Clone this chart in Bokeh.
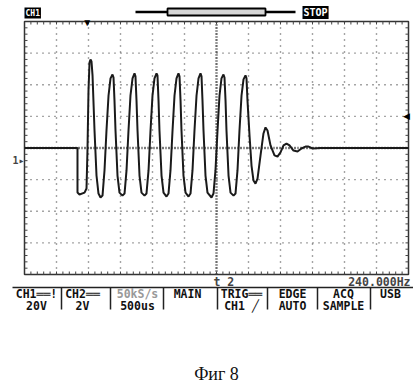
from bokeh.plotting import figure
from bokeh.models import Label, LabelSet, ColumnDataSource, Range1d
from bokeh.core.properties import value
from bokeh.embed import file_html
from bokeh.resources import INLINE

# ---- scope settings (from the screen) ----
volts_per_div = 20.0      # CH1 20V
ms_per_div = 0.5          # 500us
n_xdiv = 12
n_ydiv = 8

# ---- CH1 trace: time in ms from left edge, volts ----
t_ms = [0.000, 0.828, 0.828, 0.859, 0.938, 0.969, 0.984, 1.000, 1.016, 1.031, 1.047, 1.063,
        1.094, 1.125, 1.156, 1.188,
        1.219, 1.250, 1.281, 1.313, 1.344, 1.375, 1.391, 1.406, 1.422, 1.453, 1.484, 1.531,
        1.563, 1.594, 1.625, 1.656, 1.688, 1.719, 1.734, 1.750, 1.766, 1.797, 1.828, 1.875,
        1.906, 1.938, 1.969, 2.000, 2.031, 2.063, 2.078, 2.094, 2.109, 2.141, 2.172, 2.219,
        2.250, 2.281, 2.313, 2.344, 2.375, 2.406, 2.422, 2.438, 2.453, 2.484, 2.516, 2.563,
        2.594, 2.625, 2.656, 2.688, 2.719, 2.750, 2.766, 2.781, 2.797, 2.828, 2.859, 2.922,
        2.953, 2.984, 3.016, 3.047, 3.078, 3.109, 3.125, 3.141, 3.156, 3.188, 3.219, 3.266,
        3.297, 3.328, 3.359, 3.391, 3.422, 3.453, 3.469, 3.484, 3.516, 3.547, 3.578, 3.609,
        3.641, 3.688, 3.734, 3.766, 3.797, 3.844, 3.906, 3.953, 4.000, 4.047, 4.094, 4.141,
        4.203, 4.266, 4.328, 4.391, 4.438, 4.500, 4.625, 6.000]
volts = [0.0, 0.0, -28.2, -29.4, -28.2, -25.6, -1.6, 36.4, 54.1, 56.0, 54.7, 45.9,
         11.1, -17.4, -28.8, -31.3,
         -30.1, -14.2, 11.1, 33.2, 44.0, 46.5, 44.6, 30.1, 11.1, -17.4, -28.2, -30.1,
         -28.8, -14.2, 11.1, 33.2, 44.0, 47.2, 45.3, 30.1, 11.1, -17.4, -28.2, -30.1,
         -28.8, -14.2, 11.1, 33.2, 44.0, 47.2, 45.9, 30.1, 11.1, -17.4, -28.2, -30.7,
         -28.8, -14.2, 11.1, 33.2, 44.0, 47.2, 45.3, 30.1, 11.1, -17.4, -28.2, -30.7,
         -28.8, -14.2, 11.1, 33.2, 44.0, 47.2, 45.3, 30.1, 11.1, -17.4, -28.2, -31.3,
         -28.8, -14.2, 11.1, 33.2, 44.0, 46.5, 44.6, 30.1, 11.1, -17.4, -28.2, -30.1,
         -28.8, -14.2, 11.1, 33.2, 43.4, 45.9, 44.0, 30.1, 7.9, -11.1, -20.6, -22.5,
         -19.3, -4.7, 9.2, 13.0, 11.1, 1.6, -4.7, -5.4, -2.8, 1.6, 2.8, 1.6,
         -1.6, -2.2, -0.3, 0.9, 0.9, -0.3, 0.0, 0.0]

trig_level_v = 20.0
trig_pos_ms = 0.98
ch1_ground_v = -8.0

# ---- status texts ----
menu_top = ["CH1══!", "CH2══", "50kS/s", "MAIN", "TRIG══", "EDGE", "ACQ", "USB"]
menu_bot = ["20V", "2V", "500us", "", "CH1 ╱", "AUTO", "SAMPLE", ""]
freq_text = "240.000Hz"
caption = "Фиг 8"

# ---- layout geometry (pixels of the screen grid inside the picture) ----
W, H = 413, 383
GL, GR, GT, GB = 24, 408, 21, 274
x_end = n_xdiv * ms_per_div
y_half = n_ydiv / 2 * volts_per_div

def X(px):  # picture px -> ms
    return (px - GL) / (GR - GL) * x_end
def Y(py):  # picture px -> V
    return y_half - (py - GT) / (GB - GT) * 2 * y_half

p = figure(width=W, height=H, output_backend="svg", toolbar_location=None,
           x_range=Range1d(X(0), X(W)), y_range=Range1d(Y(H), Y(0)),
           x_axis_location=None, y_axis_location=None, min_border=0)
p.xgrid.visible = False
p.ygrid.visible = False
p.background_fill_color = "white"
p.border_fill_color = "white"
p.outline_line_color = None

# graticule
xt = [i * ms_per_div for i in range(1, n_xdiv)]
yt = [-y_half + i * volts_per_div for i in range(1, n_ydiv)]
p.segment(x0=xt, y0=-y_half, x1=xt, y1=y_half, line_color="#4a4a4a",
          line_width=1.4, line_dash="1 5")
p.segment(x0=0, y0=yt, x1=x_end, y1=yt, line_color="#4a4a4a",
          line_width=1.4, line_dash="1 5")
p.segment(x0=[x_end / 2], y0=-y_half, x1=[x_end / 2], y1=y_half, line_color="#333333",
          line_width=2.5, line_dash="1 2")
p.segment(x0=0, y0=[0], x1=x_end, y1=[0], line_color="#333333",
          line_width=2.5, line_dash="1 2")
p.quad(left=[0], right=[x_end], bottom=[-y_half], top=[y_half], fill_color=None,
       line_color="#333333", line_width=1.5)
# border minor ticks (5 per division)
xm = [i * ms_per_div / 5 for i in range(1, n_xdiv * 5)]
ym = [-y_half + i * volts_per_div / 5 for i in range(1, n_ydiv * 5)]
tx = X(GL + 3) - X(GL)
ty = Y(GT) - Y(GT + 3)
p.segment(x0=xm, y0=y_half, x1=xm, y1=y_half - ty, line_color="#444444", line_width=1)
p.segment(x0=xm, y0=-y_half, x1=xm, y1=-y_half + ty, line_color="#444444", line_width=1)
p.segment(x0=0, y0=ym, x1=tx, y1=ym, line_color="#444444", line_width=1)
p.segment(x0=x_end, y0=ym, x1=x_end - tx, y1=ym, line_color="#444444", line_width=1)

# trace
p.line(t_ms, volts, line_width=2, line_color="#1a1a1a")

mono = "DejaVu Sans Mono"
# markers
p.add_layout(Label(x=trig_pos_ms, y=Y(22), text="▼", text_align="center",
                   text_baseline="middle", text_font_size="10px", text_color="black"))
p.add_layout(Label(x=X(409), y=trig_level_v, text="◀", text_align="right",
                   text_baseline="middle", text_font_size="9px", text_color="black"))
p.add_layout(Label(x=X(12), y=ch1_ground_v, text="1▸", text_align="left",
                   text_baseline="middle", text_font=mono, text_font_style="bold",
                   text_font_size="10px"))

# top status bar
p.segment(x0=[X(135)], y0=[Y(11.5)], x1=[X(295)], y1=[Y(11.5)], line_width=2.5,
          line_color="black")
p.quad(left=[X(167)], right=[X(265)], top=[Y(8)], bottom=[Y(15)], fill_color="#d6d6d6",
       line_color="black", line_width=1.8)
p.add_layout(Label(x=X(24), y=Y(12.5), text="CH1", text_align="left", text_baseline="middle",
                   text_font=mono, text_font_style="bold", text_font_size="8px",
                   text_color="white", background_fill_color="black", padding=1))
p.add_layout(Label(x=X(302), y=Y(12), text="STOP", text_align="left", text_baseline="middle",
                   text_font=mono, text_font_style="bold", text_font_size="10px",
                   text_color="white", background_fill_color="black", padding=1))

# menu bar
p.segment(x0=[X(12)], y0=[Y(287)], x1=[X(413)], y1=[Y(287)], line_width=1.5,
          line_color="#222222")
seps = [61, 110, 163, 217, 267, 317, 370]
p.segment(x0=[X(s) for s in seps], y0=Y(287), x1=[X(s) for s in seps], y1=Y(309),
          line_width=1.5, line_color="#222222")
cx = [36, 82, 137, 187, 241, 292, 343, 390]
src = ColumnDataSource(dict(
    x=[X(c) for c in cx] * 2,
    y=[Y(293)] * 8 + [Y(305)] * 8,
    text=menu_top + menu_bot,
    color=["#111111", "#111111", "#999999"] + ["#111111"] * 13))
p.add_layout(LabelSet(x="x", y="y", text="text", source=src, text_color="color",
                      text_align="center", text_baseline="middle",
                      text_font=value(mono), text_font_style="bold", text_font_size="11.5px"))
p.add_layout(Label(x=X(213), y=Y(281), text="t 2", text_align="left", text_baseline="middle",
                   text_font=mono, text_font_style="bold", text_font_size="11.5px"))
p.add_layout(Label(x=X(410), y=Y(281), text=freq_text, text_align="right",
                   text_baseline="middle", text_font=mono, text_font_style="bold",
                   text_font_size="11.5px"))

p.add_layout(Label(x=X(216), y=Y(383), text=caption, text_align="center",
                   text_baseline="bottom", text_font="Liberation Serif",
                   text_font_size="18px", text_color="#111111"))

open("out.html", "w").write(file_html(p, INLINE))
